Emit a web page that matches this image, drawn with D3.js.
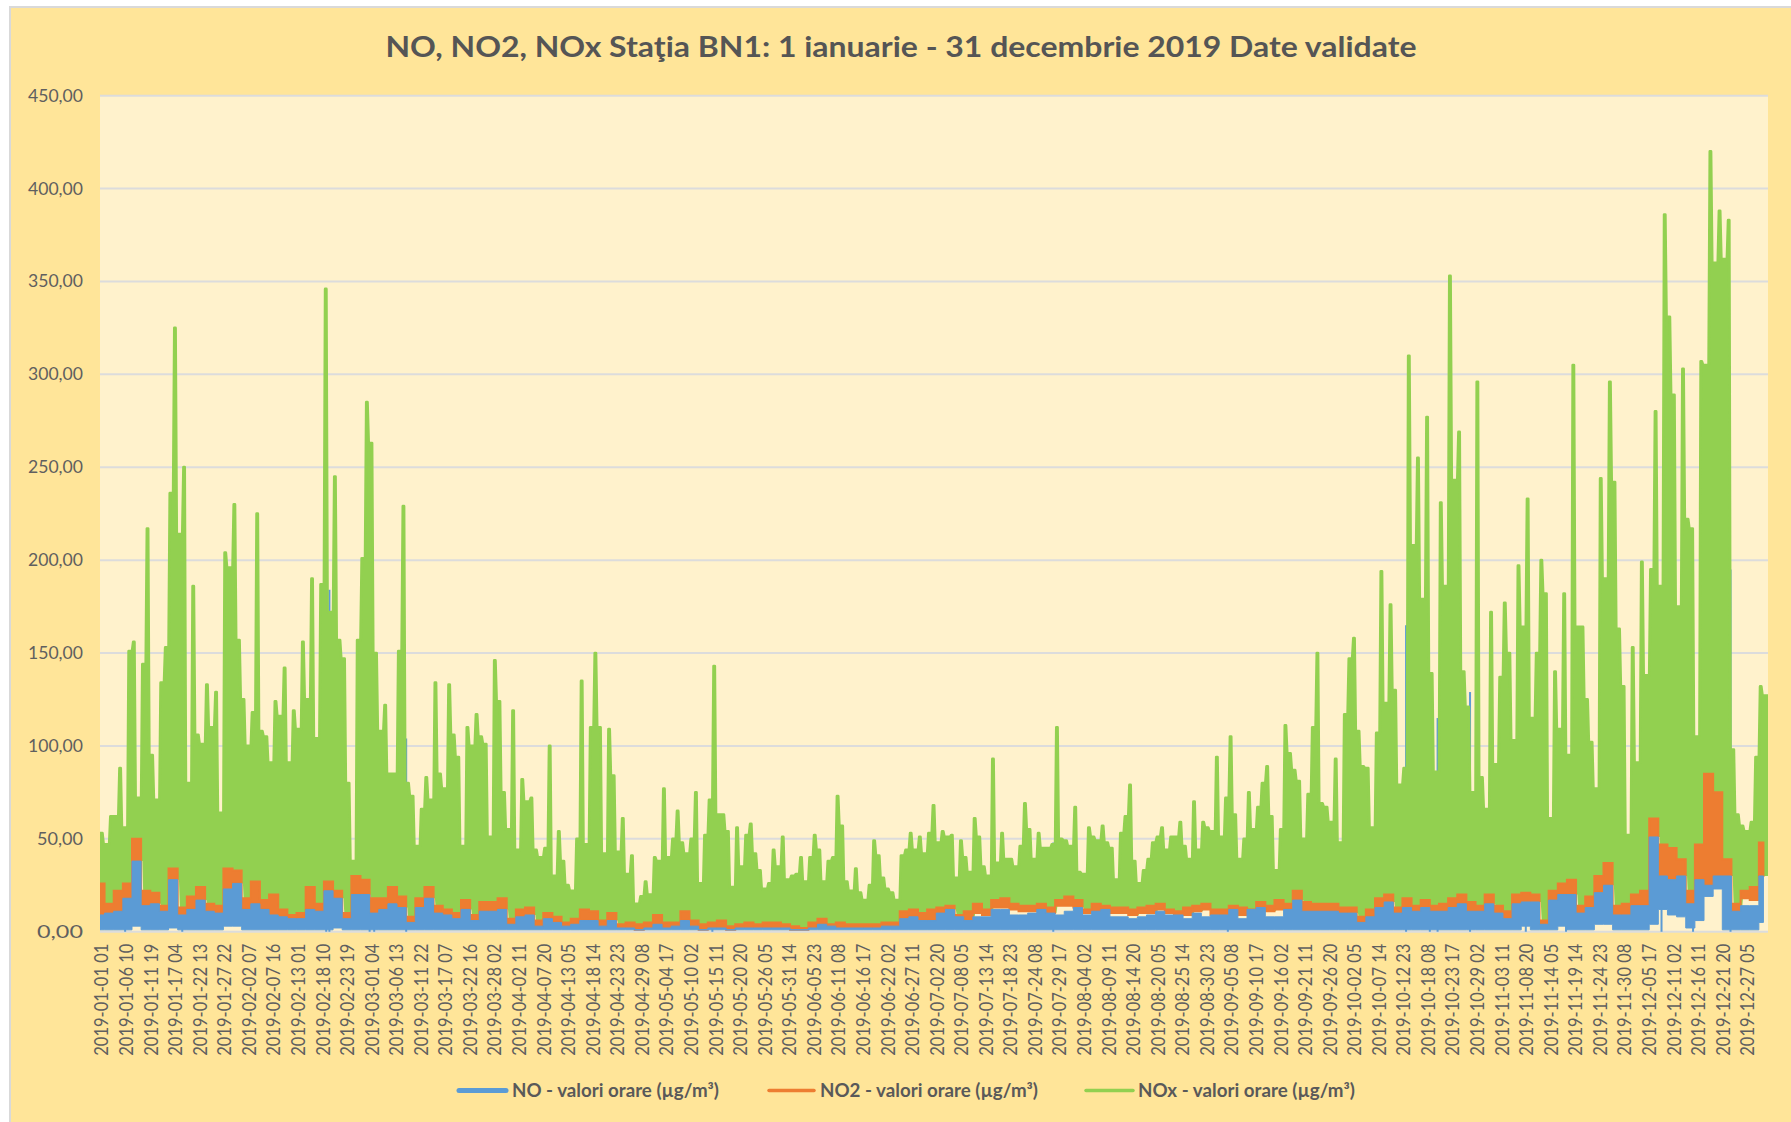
<!DOCTYPE html>
<html>
<head>
<meta charset="utf-8">
<script src="https://cdn.jsdelivr.net/npm/d3@7"></script>
<style>
  html, body { margin: 0; padding: 0; background: #fff; overflow: hidden; }
  text { font-family: Lato, "Open Sans", sans-serif; }
</style>
</head>
<body>
<div class="chart"></div>
<script>
// NOx: highest reading of each day of 2019 (day 0 .. 364)
var noxPeak = [
  53,47,62,62,88,56,151,156,72,144,
  217,95,71,134,153,236,325,214,250,80,
  186,106,101,133,110,129,64,204,196,230,
  157,125,100,118,225,108,105,91,124,116,
  142,91,119,109,156,125,190,104,187,346,
  172,245,157,147,80,38,157,201,285,263,
  150,108,122,85,85,151,229,80,73,46,
  66,83,71,134,85,77,133,106,94,46,
  110,100,117,105,101,51,146,124,75,55,
  119,44,82,70,72,44,40,45,100,30,
  54,38,25,22,50,135,47,110,150,110,
  42,109,84,43,61,31,41,15,19,
  27,20,40,38,77,40,50,65,48,42,
  50,75,26,52,71,143,63,63,54,24,
  56,35,52,58,42,33,23,26,44,35,
  51,28,30,31,40,27,40,52,44,27,
  38,40,73,57,27,22,34,21,17,25,
  49,41,29,23,21,17,41,44,53,44,
  51,42,53,68,48,54,51,52,29,49,
  40,32,
  61,51,35,30,93,37,53,39,39,35,
  46,69,55,39,53,45,45,47,110,50,
  49,46,67,32,31,56,51,49,57,48,
  45,28,53,62,79,38,26,33,39,48,
  51,56,44,51,51,59,46,39,70,44,
  59,56,54,94,51,72,105,63,39,50,
  75,55,67,80,89,62,33,55,111,96,
  87,81,
  50,74,110,150,69,67,59,93,48,117,
  147,158,108,89,88,56,107,194,123,176,
  130,79,88,310,208,255,179,277,139,86,
  231,186,353,243,269,140,121,75,296,83,
  66,172,90,137,177,150,103,197,164,233,
  115,150,200,
  182,61,140,109,182,95,305,164,164,125,
  102,77,244,190,296,242,163,132,52,153,
  91,199,138,195,280,186,386,331,289,175,
  303,222,217,105,307,305,420,360,388,362,
  383,98,63,57,54,59,94,132,127
];

// the low bands, one value for every second day
var no2Top = [
  26,15,22,26,50,22,21,14,34,13,19,24,15,14,34,33,18,27,17,20,12,9,10,24,15,27,22,10,30,28,18,18,24,19,8,18,24,14,12,10,17,9,16,16,
  18,7,12,13,6,10,8,5,7,12,11,6,10,4,5,4,
  5,9,5,5,11,6,4,5,6,3,4,5,4,5,5,4,3,2,5,7,4,5,4,4,4,4,5,5,11,12,10,12,13,14,9,11,
  15,12,17,18,15,14,14,15,13,17,19,17,12,15,14,13,13,12,13,14,15,12,11,13,14,15,12,12,14,13,12,16,14,17,15,22,
  16,15,15,15,13,13,8,12,18,20,13,18,14,17,14,15,18,20,16,14,20,14,11,20,21,20,
  6,22,26,28,14,19,30,37,14,15,20,22,61,47,45,39,22,47,85,75,39,15,22,24,48
];
var no2Low = [
  9,10,11,18,38,14,15,11,28,9,12,17,11,10,23,26,12,15,12,9,8,7,7,12,11,22,18,7,20,20,10,12,15,13,5,13,18,10,9,7,12,6,11,11,
  12,4,8,9,3,7,5,3,4,6,6,3,6,2,2,1,
  2,4,2,3,6,3,1,2,2,1,2,2,2,2,2,2,1,1,2,4,3,2,2,2,2,2,3,3,7,8,6,6,10,12,8,6,
  10,9,13,13,12,11,11,12,10,14,14,13,10,11,12,10,10,9,10,10,12,10,9,9,11,12,9,9,12,9,12,13,11,12,12,17,
  11,11,11,11,10,10,5,8,13,16,10,13,11,13,11,11,13,15,11,11,15,10,7,15,16,16,
  4,17,20,20,10,13,21,25,9,9,14,14,51,30,28,30,15,28,25,30,30,11,18,17,30
];
var noTop = [
  9,10,11,18,38,14,15,11,28,9,12,17,11,10,23,26,12,15,12,9,8,7,7,12,11,22,18,7,20,20,10,12,15,13,5,13,18,10,9,7,12,6,11,11,
  12,4,8,9,3,7,5,3,4,6,6,3,6,2,2,1,
  2,4,2,3,6,3,1,2,2,1,2,2,2,2,2,2,1,1,2,4,3,2,2,2,2,2,3,3,7,8,6,6,10,12,8,6,
  8,8,12,12,9,9,10,12,10,9,11,13,9,11,12,8,8,7,8,9,11,9,9,7,10,8,9,9,12,7,12,13,8,8,12,17,
  11,11,11,11,10,10,5,8,13,16,10,13,11,13,11,11,13,15,11,11,15,10,7,15,16,16,
  4,17,20,20,10,13,21,25,9,9,14,14,51,30,28,30,15,28,25,30,30,11,14,14,30
];
var noFloor = [
  1,1,1,1,3,1,1,1,2,1,1,1,1,1,3,3,1,1,1,1,1,1,1,1,1,1,2,1,1,1,1,1,1,1,1,1,1,1,1,1,1,1,1,1,
  1,1,1,1,1,1,1,1,1,1,1,1,1,1,1,1,
  1,1,1,1,1,1,1,1,1,1,1,1,1,1,1,1,1,1,1,1,1,1,1,1,1,1,1,1,1,1,1,1,1,1,1,1,
  1,1,1,1,1,1,1,1,1,1,1,1,1,1,1,1,1,1,1,1,1,1,1,1,1,1,1,1,1,1,1,1,1,1,1,1,
  1,1,1,1,1,1,1,1,1,1,1,1,1,1,1,1,1,1,1,1,1,1,1,1,3,1,
  1,1,3,1,1,1,4,4,1,1,1,1,4,12,9,8,2,6,19,23,1,1,1,1,5
];

// NO spikes standing out beside the green mass
var noSpikeDays = [5.5, 18, 49.5, 50.2, 59, 60, 67, 134, 208.6, 246.8, 285.8, 291, 292.7, 299.8, 312, 320.8, 341.7, 348.6, 356.8];
var noSpikeValues = [55, 88, 184, 184, 128, 128, 104, 71, 48, 50, 165, 129, 115, 129, 115, 99, 186, 129, 195];

var xTickLabels = [
  "2019-01-01 01","2019-01-06 10","2019-01-11 19","2019-01-17 04","2019-01-22 13","2019-01-27 22",
  "2019-02-02 07","2019-02-07 16","2019-02-13 01","2019-02-18 10","2019-02-23 19","2019-03-01 04",
  "2019-03-06 13","2019-03-11 22","2019-03-17 07","2019-03-22 16","2019-03-28 02","2019-04-02 11",
  "2019-04-07 20","2019-04-13 05","2019-04-18 14","2019-04-23 23","2019-04-29 08","2019-05-04 17",
  "2019-05-10 02","2019-05-15 11","2019-05-20 20","2019-05-26 05","2019-05-31 14","2019-06-05 23",
  "2019-06-11 08","2019-06-16 17","2019-06-22 02","2019-06-27 11","2019-07-02 20","2019-07-08 05",
  "2019-07-13 14","2019-07-18 23","2019-07-24 08","2019-07-29 17","2019-08-04 02","2019-08-09 11",
  "2019-08-14 20","2019-08-20 05","2019-08-25 14","2019-08-30 23","2019-09-05 08","2019-09-10 17",
  "2019-09-16 02","2019-09-21 11","2019-09-26 20","2019-10-02 05","2019-10-07 14","2019-10-12 23",
  "2019-10-18 08","2019-10-23 17","2019-10-29 02","2019-11-03 11","2019-11-08 20","2019-11-14 05",
  "2019-11-19 14","2019-11-24 23","2019-11-30 08","2019-12-05 17","2019-12-11 02","2019-12-16 11",
  "2019-12-21 20","2019-12-27 05"
];
var yTicks = [0, 50, 100, 150, 200, 250, 300, 350, 400, 450];
var legendNames = ["NO - valori orare (µg/m³)", "NO2 - valori orare (µg/m³)", "NOx - valori orare (µg/m³)"];

var svgWidth = 1791;
var svgHeight = 1122;
var margin = { top: 95.7, right: 23, bottom: 190.3, left: 100 };
var width = svgWidth - margin.left - margin.right;
var height = svgHeight - margin.top - margin.bottom;

var colorNO = "#5b9bd5", colorNO2 = "#ed7d31", colorNOx = "#92d050";
var textColor = "#5f5f5f";

var svg = d3.select(".chart").append("svg")
  .attr("width", svgWidth)
  .attr("height", svgHeight)
  .style("display", "block");

// chart area, runs off the right and bottom of the photo
svg.append("rect")
  .attr("x", 10).attr("y", 7)
  .attr("width", svgWidth + 20).attr("height", svgHeight + 20)
  .attr("fill", "#ffe599")
  .attr("stroke", "#d9d9d9")
  .attr("stroke-width", 2);

svg.append("text")
  .attr("x", 901).attr("y", 57)
  .attr("text-anchor", "middle")
  .attr("font-size", 28)
  .attr("font-weight", 700)
  .attr("fill", "#555555")
  .attr("textLength", 1031)
  .attr("lengthAdjust", "spacingAndGlyphs")
  .text("NO, NO2, NOx Staţia BN1: 1 ianuarie - 31 decembrie 2019 Date validate");

var chartGroup = svg.append("g")
  .attr("transform", `translate(${margin.left}, ${margin.top})`);

svg.append("clipPath").attr("id", "plotClip")
  .append("rect").attr("width", width).attr("height", height + 2);

var xScale = d3.scaleLinear().domain([0, 365]).range([0, width]);
var yScale = d3.scaleLinear().domain([0, 450]).range([height, 0]);

chartGroup.append("rect")
  .attr("width", width).attr("height", height)
  .attr("fill", "#fff2cc");

// horizontal gridlines and value axis
var leftAxis = d3.axisLeft(yScale)
  .tickValues(yTicks)
  .tickSize(0)
  .tickPadding(17)
  .tickFormat(d => d3.format(".2f")(d).replace(".", ","));

var yAxisGroup = chartGroup.append("g").call(leftAxis);
yAxisGroup.select(".domain").remove();
yAxisGroup.selectAll("text")
  .attr("font-size", 17)
  .attr("fill", textColor)
  .attr("textLength", d => d >= 100 ? 55 : 46)
  .attr("lengthAdjust", "spacingAndGlyphs")
  .style("font-family", "Lato");

chartGroup.append("g").selectAll("line")
  .data(yTicks)
  .enter().append("line")
  .attr("x1", 0).attr("x2", width)
  .attr("y1", d => yScale(d)).attr("y2", d => yScale(d))
  .attr("stroke", "#dcdcdc")
  .attr("stroke-width", 2);

// 129 hours between two labels
var bottomAxis = d3.axisBottom(xScale)
  .tickValues(xTickLabels.map((d, i) => i * 129 / 24))
  .tickSize(0)
  .tickFormat((d, i) => xTickLabels[i]);

var xAxisGroup = chartGroup.append("g")
  .attr("transform", `translate(0, ${height})`)
  .call(bottomAxis);
xAxisGroup.select(".domain").remove();
xAxisGroup.selectAll("text")
  .attr("transform", "rotate(-90)")
  .attr("text-anchor", "end")
  .attr("x", -12)
  .attr("y", 1.5)
  .attr("dy", "0.35em")
  .attr("font-size", 18.5)
  .attr("fill", textColor)
  .attr("textLength", 112)
  .attr("lengthAdjust", "spacingAndGlyphs")
  .style("font-family", "Lato");

// a narrow column for each day, flat shoulder between days at the lower of the two
var peakOffset = 0.4;
var noxPoints = [{ day: -peakOffset, value: noxPeak[0] }];
noxPeak.forEach(function(v, i) {
  noxPoints.push({ day: i - 0.12, value: v });
  noxPoints.push({ day: i + 0.12, value: v });
  if (i < noxPeak.length - 1) {
    var shoulder = Math.min(v, noxPeak[i + 1]);
    noxPoints.push({ day: i + 0.38, value: shoulder });
    noxPoints.push({ day: i + 0.62, value: shoulder });
  }
});
noxPoints.push({ day: 365 - peakOffset, value: noxPeak[noxPeak.length - 1] });

var lowIndex = day => Math.max(0, Math.min(Math.round(day / 2), no2Low.length - 1));

var noxArea = d3.area()
  .x(d => xScale(d.day + peakOffset))
  .y0(d => yScale(no2Low[lowIndex(d.day)]))
  .y1(d => yScale(d.value));

var noxLine = d3.line()
  .x(d => xScale(d.day + peakOffset))
  .y(d => yScale(d.value));

var marks = chartGroup.append("g").attr("clip-path", "url(#plotClip)");

// NO spikes go under the green
marks.append("g").selectAll("line")
  .data(noSpikeDays)
  .enter().append("line")
  .attr("x1", d => xScale(d)).attr("x2", d => xScale(d))
  .attr("y1", yScale(0))
  .attr("y2", (d, i) => yScale(noSpikeValues[i]))
  .attr("stroke", colorNO)
  .attr("stroke-width", 2);

marks.append("path")
  .datum(noxPoints)
  .attr("d", noxArea)
  .attr("fill", colorNOx);

marks.append("path")
  .datum(noxPoints)
  .attr("d", noxLine)
  .attr("fill", "none")
  .attr("stroke", colorNOx)
  .attr("stroke-width", 2.8)
  .attr("stroke-linejoin", "round")
  .attr("stroke-linecap", "round");

// orange and blue bands, blocky like the hourly traces
var no2Area = d3.area()
  .curve(d3.curveStep)
  .x((d, i) => xScale(i * 2))
  .y0((d, i) => yScale(no2Low[i]))
  .y1(d => yScale(d));

marks.append("path")
  .datum(no2Top)
  .attr("d", no2Area)
  .attr("fill", colorNO2)
  .attr("stroke", colorNO2)
  .attr("stroke-width", 2);

var noArea = d3.area()
  .curve(d3.curveStep)
  .x((d, i) => xScale(i * 2))
  .y0((d, i) => yScale(noFloor[i]))
  .y1(d => yScale(d));

marks.append("path")
  .datum(noTop)
  .attr("d", noArea)
  .attr("fill", colorNO)
  .attr("stroke", colorNO)
  .attr("stroke-width", 1);

// legend
var legendColors = [colorNO, colorNO2, colorNOx];
var legendKeyX = [459, 769, 1086];
var legendKeyWidth = [47, 45, 47];
var legendKeyStroke = [5, 3.5, 3.5];
var legendTextX = [512, 820, 1138];
var legendTextWidth = [207, 218, 217];

var legend = svg.append("g").selectAll("g")
  .data(legendNames)
  .enter().append("g");

legend.append("line")
  .attr("x1", (d, i) => legendKeyX[i])
  .attr("x2", (d, i) => legendKeyX[i] + legendKeyWidth[i])
  .attr("y1", 1090.5).attr("y2", 1090.5)
  .attr("stroke", (d, i) => legendColors[i])
  .attr("stroke-width", (d, i) => legendKeyStroke[i])
  .attr("stroke-linecap", "round");

legend.append("text")
  .attr("x", (d, i) => legendTextX[i])
  .attr("y", 1097)
  .attr("font-size", 18)
  .attr("font-weight", 700)
  .attr("fill", "#595959")
  .attr("textLength", (d, i) => legendTextWidth[i])
  .attr("lengthAdjust", "spacingAndGlyphs")
  .text(d => d);
</script>
</body>
</html>
